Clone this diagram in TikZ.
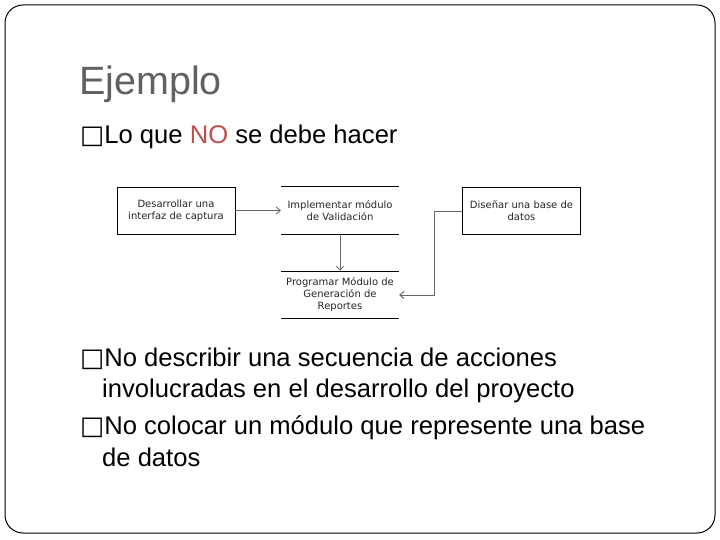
\documentclass[tikz,border=0pt]{standalone}
\usepackage{fontspec}
\setmainfont{Liberation Sans}
\newfontfamily\dv{DejaVu Sans}
\usetikzlibrary{arrows.meta}
\begin{document}
\begin{tikzpicture}[x=1pt,y=-1pt,
  bx/.style={draw=black,line width=0.6pt,minimum width=118pt,minimum height=47pt,align=center,inner sep=0pt,font=\dv\fontsize{10}{12}\selectfont,text=black!85},
  ln/.style={draw=none,minimum width=118pt,minimum height=47pt,align=center,inner sep=0pt,font=\dv\fontsize{10}{12}\selectfont,text=black!85},
  ar/.style={draw=black!60,line width=0.8pt,-{Straight Barb[length=4pt,width=7pt]}},
  bl/.style={anchor=base west,font=\fontsize{25.6}{29}\selectfont}]
\useasboundingbox (0,0) rectangle (720,540);
\fill[white] (0,0) rectangle (720,540);
\draw[black,line width=1pt,rounded corners=18pt] (5,5) rectangle (715,533);
\node[anchor=base west,font=\fontsize{39.5}{44}\selectfont,text=black!62,inner sep=0pt] (title) at (79,95) {Ejemplo};
\node[bl,inner sep=0pt] (b1) at (80,144) {{\dv□}Lo que {\color[HTML]{C0504D}NO} se debe hacer};
\node[bx] (d) at (176,210.5) {Desarrollar una\\interfaz de captura};
\node[ln] (v) at (340,210.5) {Implementar módulo\\de Validación};
\node[bx] (b) at (521.5,210.5) {Diseñar una base de\\datos};
\node[ln] (r) at (340,294.5) {Programar Módulo de\\Generación de\\Reportes};
\foreach \n in {v,r}{\draw[line width=0.6pt] (\n.north west)--(\n.north east) (\n.south west)--(\n.south east);}
\draw[ar] (d.east) -- (v.west);
\draw[ar] (v.south) -- (r.north);
\coordinate (k1) at (434,212);
\coordinate (k2) at (434,295);
\draw[ar,line width=1pt] (b.west|-k1) -- (k1) -- (k2) -- (r.east|-k2);
\node[bl,inner sep=0pt] (b2) at (80,366) {{\dv□}No describir una secuencia de acciones};
\node[bl,inner sep=0pt] (b2b) at (102,397) {involucradas en el desarrollo del proyecto};
\node[bl,inner sep=0pt] (b3) at (80,434) {{\dv□}No colocar un módulo que represente una base};
\node[bl,inner sep=0pt] (b3b) at (102,466) {de datos};
\end{tikzpicture}
\end{document}
